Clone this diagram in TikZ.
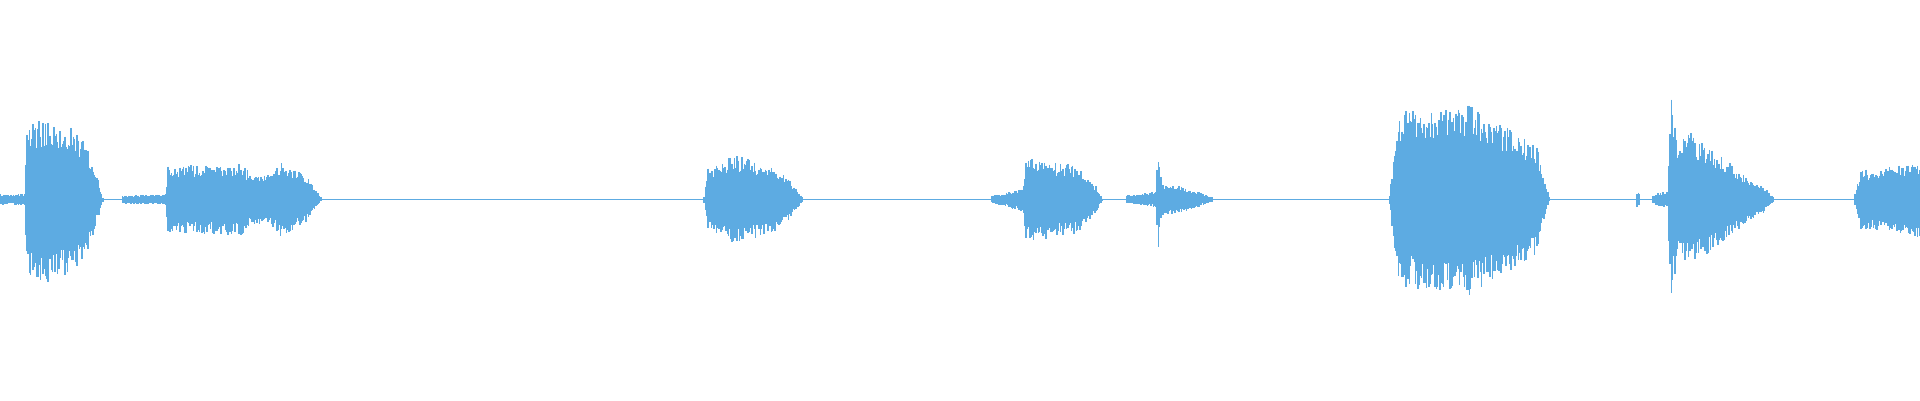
\documentclass[tikz,border=0pt]{standalone}
\definecolor{wave}{RGB}{93,171,226}
\begin{document}
\begin{tikzpicture}[x=0.012245cm,y=0.012245cm]
\pgfmathsetseed{7}
\useasboundingbox (0,-164) rectangle (1568,163);
\draw[wave,line width=0.5pt] (0,0) -- (1568,0);
\foreach \xa/\aa/\xb/\ab in {
 0/4/20/4, 20/4/22/55, 22/55/35/62, 35/62/60/55, 60/55/72/40, 72/40/80/15, 80/15/84/2,
 100/3/135/4,
 135/4/137/25, 137/25/200/27, 200/22/222/20, 222/20/230/28, 230/28/250/18, 250/18/262/2,
 575/3/578/25, 578/25/600/33, 600/33/630/25, 630/25/645/15, 645/15/655/2,
 810/3/825/6, 825/6/836/10, 836/10/838/32, 838/32/880/25, 880/25/895/10, 895/10/900/1,
 920/3/944/6, 944/6/946/38, 946/38/949/12, 949/12/965/10, 965/10/990/2,
 1135/3/1142/65, 1142/65/1200/72, 1200/72/1230/55, 1230/55/1255/40, 1255/40/1265/2,
 1337/6/1339/6,
 1350/4/1362/6, 1362/6/1365/80, 1365/80/1370/40, 1370/40/1380/50, 1380/50/1410/30, 1410/30/1430/15, 1430/15/1440/10, 1440/10/1448/2,
 1515/5/1520/22, 1520/22/1568/28}{
  \pgfmathsetmacro{\xn}{\xa+1}
  \foreach \x in {\xa,\xn,...,\xb}{
    \pgfmathsetmacro{\am}{\aa+(\ab-\aa)*(\x-\xa)/max(\xb-\xa,0.01)}
    \pgfmathsetmacro{\tp}{\am*(0.7+0.4*rnd)}
    \pgfmathsetmacro{\bt}{\am*(0.7+0.4*rnd)}
    \draw[wave,line width=0.45pt] (\x,\tp) -- (\x,-\bt);
  }
}
\end{tikzpicture}
\end{document}
